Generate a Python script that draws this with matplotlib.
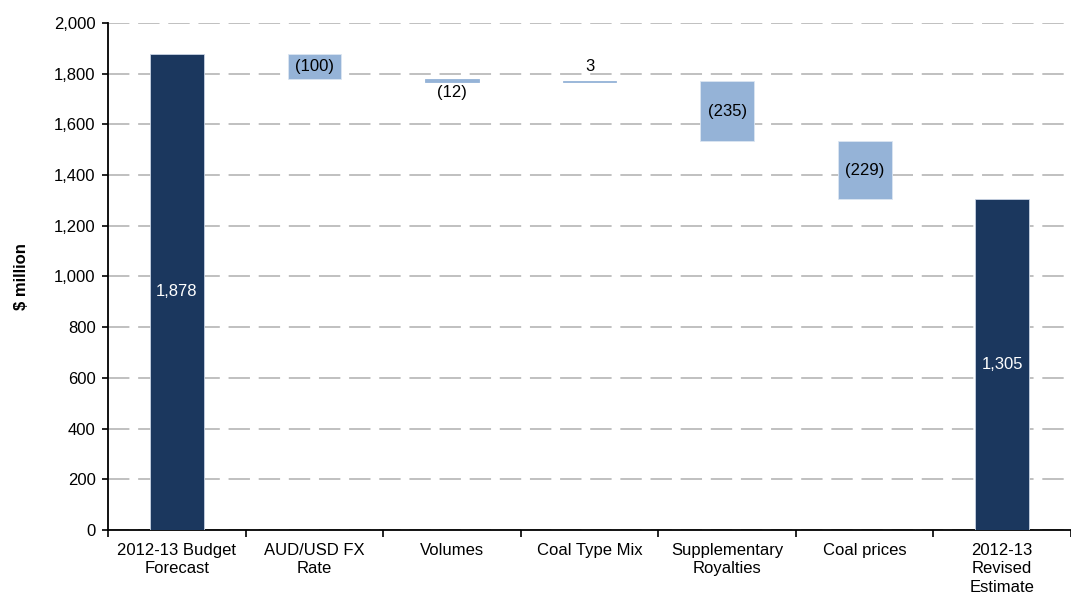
import matplotlib.pyplot as plt
import numpy as np

# Data
categories = ["2012-13 Budget\nForecast", "AUD/USD FX\nRate", "Volumes", "Coal Type Mix",
              "Supplementary\nRoyalties", "Coal prices", "2012-13\nRevised\nEstimate"]
start_value = 1878
changes = [-100, -12, 3, -235, -229]
end_value = 1305
y_ticks = [0, 200, 400, 600, 800, 1000, 1200, 1400, 1600, 1800, 2000]

dark = "#1B375E"
light = "#95B3D7"

plt.rcParams['font.family'] = ['Liberation Sans', 'DejaVu Sans']

fig = plt.figure(figsize=(10.71, 6.03), dpi=100)
ax = fig.add_axes([0.101, 0.121, 0.899, 0.841])

x = np.arange(len(categories))
width = 0.39
fs = 12

# totals
ax.bar(x[0], start_value, width, color=dark, edgecolor="#C8D3E3", linewidth=0.6, zorder=3)
ax.bar(x[-1], end_value, width, color=dark, edgecolor="#C8D3E3", linewidth=0.6, zorder=3)
ax.text(x[0], start_value / 2, f"{start_value:,}", color="white", ha="center", va="center", fontsize=fs, zorder=4)
ax.text(x[-1], end_value / 2, f"{end_value:,}", color="white", ha="center", va="center", fontsize=fs, zorder=4)

# movements
level = start_value
for i, ch in enumerate(changes):
    xi = x[i + 1]
    bottom = level + min(ch, 0)
    edge = "#DCE6F2" if abs(ch) >= 50 else light
    ax.bar(xi, abs(ch), width, bottom=bottom, color=light, edgecolor=edge, linewidth=0.6, zorder=3)
    label = f"({abs(ch)})" if ch < 0 else f"{ch}"
    if abs(ch) >= 50:
        ax.text(xi, bottom + abs(ch) / 2, label, ha="center", va="center", fontsize=fs, zorder=4)
    elif ch < 0:
        ax.text(xi, bottom - 10, label, ha="center", va="top", fontsize=fs, zorder=4)
    else:
        ax.text(xi, bottom + abs(ch) + 30, label, ha="center", va="bottom", fontsize=fs, zorder=4)
    level += ch

# axes styling
ax.set_xlim(-0.5, len(categories) - 0.5)
ax.set_ylim(0, 2000)
ax.set_yticks(y_ticks)
ax.set_yticklabels([f"{v:,}" for v in y_ticks], fontsize=fs)
ax.set_xticks(x)
ax.set_xticklabels(categories, fontsize=fs, linespacing=1.3)
ax.set_xticks(np.arange(-0.5, len(categories), 1), minor=True)
ax.tick_params(axis="x", which="major", length=0, pad=9)
ax.tick_params(axis="x", which="minor", length=5, width=1.2, direction="out")
ax.tick_params(axis="y", length=4, width=1.2, direction="out", pad=5)

ax.grid(axis="y", color="#C0C0C0", linestyle=(0, (11, 4.5)), linewidth=1.4, zorder=0)
ax.set_axisbelow(True)
for side in ["top", "right"]:
    ax.spines[side].set_visible(False)
ax.spines["left"].set_linewidth(1.3)
ax.spines["bottom"].set_linewidth(1.3)

ax.set_ylabel("$ million", fontsize=fs, fontweight="bold", labelpad=18)

fig.savefig("out.png", dpi=100)
